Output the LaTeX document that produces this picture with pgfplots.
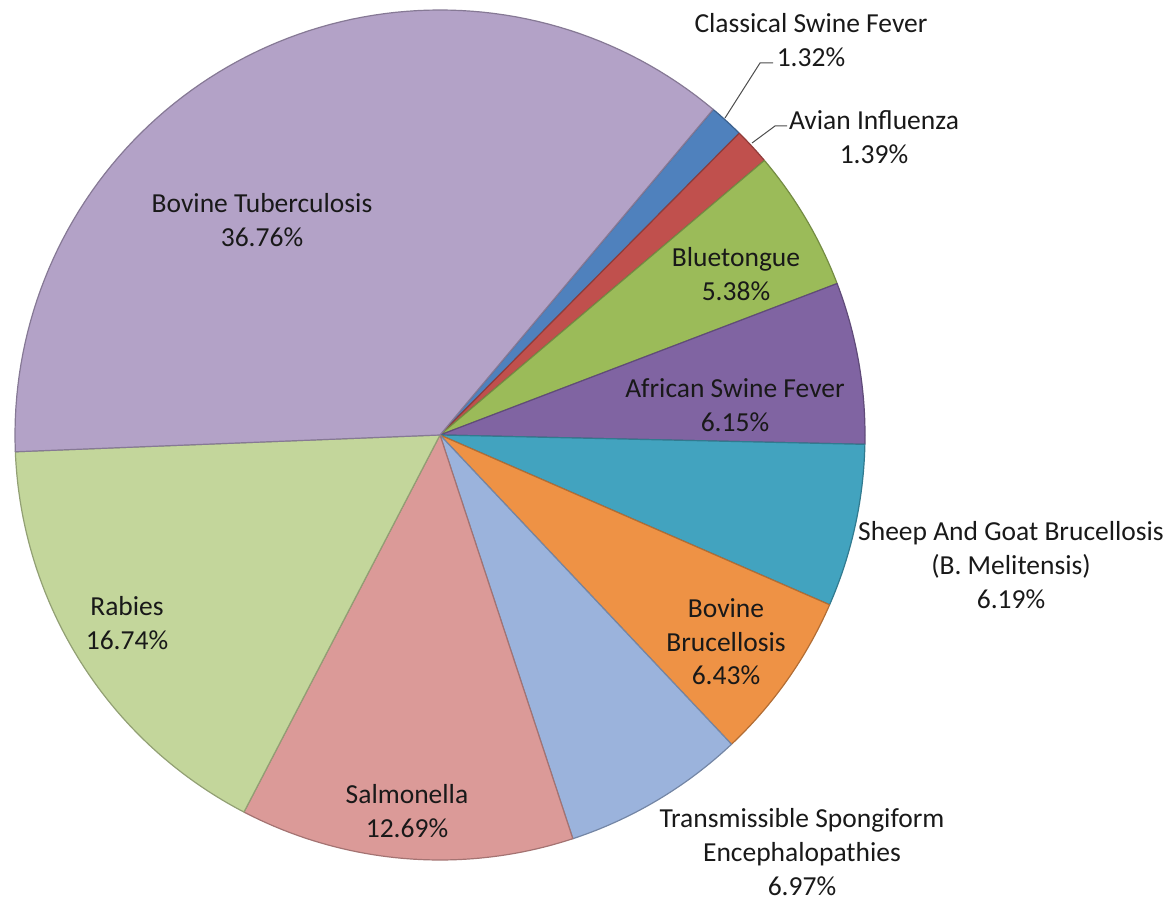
\documentclass[border=0pt]{standalone}
\usepackage{fontspec}
\setmainfont{Carlito}
\usepackage{pgfplots}
\pgfplotsset{compat=1.18}
\definecolor{cBT}{HTML}{B3A2C7}
\definecolor{cRab}{HTML}{C3D69B}
\definecolor{cSal}{HTML}{DB9A98}
\definecolor{cTSE}{HTML}{9BB3DC}
\definecolor{cBB}{HTML}{EE9245}
\definecolor{cSG}{HTML}{42A3BF}
\definecolor{cASF}{HTML}{8064A2}
\definecolor{cBL}{HTML}{9BBB59}
\definecolor{cAI}{HTML}{C0504D}
\definecolor{cCSF}{HTML}{4F81BD}
\newcommand{\cum}{0}
\newcommand{\slice}[2]{%
  \pgfmathsetmacro\sa{40+3.6*\cum}%
  \pgfmathsetmacro\sb{min(400,40+3.6*(\cum+#2))}%
  \edef\temp{\noexpand\addplot[fill=#1, draw=#1!75!black, line width=1.2pt, line join=round, domain=\sa:\sb, samples=90, variable=\noexpand\t]
    ({440+425*sin(\noexpand\t)},{469+425*cos(\noexpand\t)}) -- (axis cs:440,469) -- cycle;}%
  \temp
  \pgfmathsetmacro\newcum{\cum+#2}%
  \xdef\cum{\newcum}%
}
\begin{document}
\begin{tikzpicture}
\useasboundingbox (0,0) rectangle (1174pt,904pt);
\begin{axis}[at={(0,0)}, anchor=south west, scale only axis,
  width=1174pt, height=904pt, xmin=0, xmax=1174, ymin=0, ymax=904,
  hide axis, clip=false]
\slice{cCSF}{1.32}
\slice{cAI}{1.39}
\slice{cBL}{5.38}
\slice{cASF}{6.15}
\slice{cSG}{6.19}
\slice{cBB}{6.43}
\slice{cTSE}{6.97}
\slice{cSal}{12.69}
\slice{cRab}{16.74}
\slice{cBT}{36.76}
\draw[black!70, line width=1pt] (axis cs:725,786) -- (axis cs:760,841) -- (axis cs:773,841);
\draw[black!70, line width=1pt] (axis cs:752,761) -- (axis cs:775,778) -- (axis cs:787,778);
\tikzset{lab/.style={align=center, font=\fontsize{27.5}{33.6}\selectfont, text=black!90}}
\node[lab] at (axis cs:811,864) {Classical Swine Fever\\1.32\%};
\node[lab] at (axis cs:874,767) {Avian Influenza\\1.39\%};
\node[lab] at (axis cs:262,684) {Bovine Tuberculosis\\36.76\%};
\node[lab] at (axis cs:736,630) {Bluetongue\\5.38\%};
\node[lab] at (axis cs:735,499) {African Swine Fever\\6.15\%};
\node[lab] at (axis cs:1011,339) {Sheep And Goat Brucellosis\\(B. Melitensis)\\6.19\%};
\node[lab] at (axis cs:726,262) {Bovine\\Brucellosis\\6.43\%};
\node[lab] at (axis cs:802,52) {Transmissible Spongiform\\Encephalopathies\\6.97\%};
\node[lab] at (axis cs:407,93) {Salmonella\\12.69\%};
\node[lab] at (axis cs:127,281) {Rabies\\16.74\%};
\end{axis}
\end{tikzpicture}
\end{document}
